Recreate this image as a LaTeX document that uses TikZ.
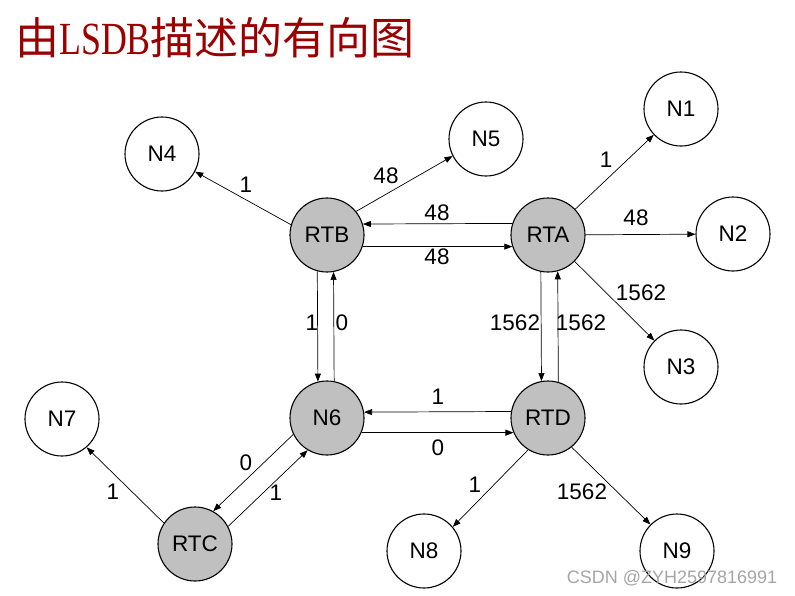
\documentclass[tikz,border=0pt]{standalone}
\usepackage{fontspec}
\usepackage{graphicx}
\setmainfont{Liberation Sans}
\newfontfamily\cjkfont{Noto Sans CJK SC}
\newfontfamily\serifL{Liberation Serif}
\usetikzlibrary{arrows.meta}
\definecolor{titlered}{RGB}{155,0,0}
\definecolor{nodegray}{RGB}{192,192,192}
\begin{document}
\begin{tikzpicture}[x=1pt,y=1pt,
  vertex/.style={circle,draw=black,line width=1.1pt,minimum size=74pt,inner sep=0pt,font=\fontsize{22.5}{22.5}\selectfont},
  router/.style={vertex,fill=nodegray},
  net/.style={vertex,fill=white},
  link/.style={-{Triangle[length=8pt,width=6pt]},line width=0.7pt},
  wt/.style={font=\fontsize{22.5}{22.5}\selectfont,inner sep=0pt}]
\useasboundingbox[fill=white] (0,0) rectangle (795,-595);

% title
\node[anchor=base west,inner sep=0pt,text=titlered] (title) at (15,-54)
  {\cjkfont\fontsize{44}{44}\selectfont 由\scalebox{0.78}[1]{\serifL\fontsize{46}{46}\selectfont LSDB}描述的有向图};

% nodes
\node[net] (N1) at (681,-109) {N1};
\node[net] (N2) at (733,-234) {N2};
\node[net] (N3) at (681,-367) {N3};
\node[net] (N4) at (162,-154) {N4};
\node[net] (N5) at (486,-139) {N5};
\node[router] (RTB) at (327,-235) {RTB};
\node[router] (RTA) at (548,-235) {RTA};
\node[router] (N6) at (327,-418) {N6};
\node[router] (RTD) at (548,-418) {RTD};
\node[net] (N7) at (62,-419) {N7};
\node[router] (RTC) at (195,-544) {RTC};
\node[net] (N8) at (424,-551) {N8};
\node[net] (N9) at (677,-551) {N9};

% connectors
\draw[link] (RTA.162.7) -- (RTB.17.3);
\draw[link] (RTB.-18.9) -- (RTA.198.9);
\draw[link] (RTB.255.9) -- (N6.104.1);
\draw[link] (N6.79.1) -- (RTB.280.9);
\draw[link] (RTA.259.1) -- (RTD.100.9);
\draw[link] (RTD.74.3) -- (RTA.285.7);
\draw[link] (RTD.170.7) -- (N6.9.3);
\draw[link] (N6.-23.9) -- (RTD.203.9);
\draw[link] (N6.206.4) -- (RTC.61.0);
\draw[link] (RTC.28.0) -- (N6.239.4);
\draw[link] (RTB.164.9) -- (N4.332.8);
\draw[link] (RTB.39.8) -- (N5.207.2);
\draw[link] (RTA) -- (N1);
\draw[link] (RTA) -- (N2);
\draw[link] (RTA) -- (N3);
\draw[link] (RTC.146.7) -- (N7.311.8);
\draw[link] (RTD.238) -- (N8.40.6);
\draw[link] (RTD.309.8) -- (N9.135);

% weights
\node[wt] (w1) at (437,-213) {48};
\node[wt] (w2) at (437,-257) {48};
\node[wt] (w3) at (312,-323) {1};
\node[wt] (w4) at (342,-323) {0};
\node[wt] (w5) at (515,-323) {1562};
\node[wt] (w6) at (581,-323) {1562};
\node[wt] (w7) at (438,-397) {1};
\node[wt] (w8) at (438,-448) {0};
\node[wt] (w9) at (246,-463) {0};
\node[wt] (w10) at (276,-493) {1};
\node[wt] (w11) at (246,-185) {1};
\node[wt] (w12) at (386,-176) {48};
\node[wt] (w13) at (606,-160) {1};
\node[wt] (w14) at (636,-218) {48};
\node[wt] (w15) at (641,-293) {1562};
\node[wt] (w16) at (113,-492) {1};
\node[wt] (w17) at (475,-485) {1};
\node[wt] (w18) at (582,-492) {1562};

% watermark
\node[anchor=center,inner sep=0pt,text=black!35,font=\fontsize{18}{18}\selectfont] (wm) at (672,-578) {CSDN @ZYH2597816991};
\end{tikzpicture}
\end{document}
